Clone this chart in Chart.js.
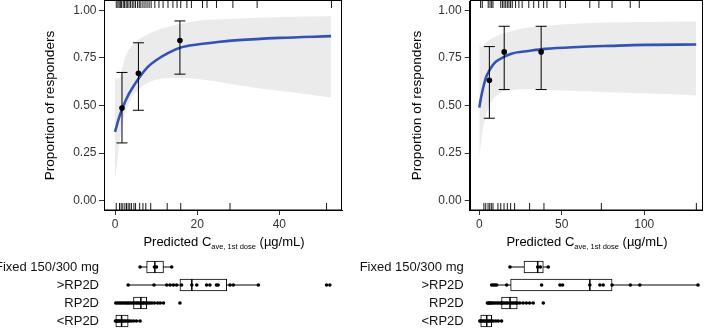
<!DOCTYPE html>
<html><head><meta charset="utf-8">
<script src="https://cdn.jsdelivr.net/npm/chart.js@4.4.1/dist/chart.umd.min.js"></script>
<style>
body{margin:0;width:708px;height:329px;overflow:hidden;background:#fff;position:relative;font-family:"Liberation Sans",Arial,sans-serif}
.c{position:absolute}
.xt{position:absolute;font-size:13px;color:#000;white-space:nowrap;transform:translateX(-50%);line-height:15px}
.xt sub{font-size:7.5px;vertical-align:-3px}
</style></head><body>
<canvas class="c" id="tl" width="354" height="256" style="left:0;top:0"></canvas>
<canvas class="c" id="tr" width="354" height="256" style="left:354px;top:0"></canvas>
<canvas class="c" id="bl" width="354" height="72" style="left:0;top:258px"></canvas>
<canvas class="c" id="br" width="354" height="72" style="left:354px;top:258px"></canvas>
<div class="xt" style="left:224px;top:234px">Predicted C<sub>ave, 1st dose</sub> (µg/mL)</div>
<div class="xt" style="left:587px;top:234px">Predicted C<sub>ave, 1st dose</sub> (µg/mL)</div>
<script>
// ---------- shared ----------
const Y_TICKS = [0, 0.25, 0.5, 0.75, 1];
const Y_MIN = -0.05, Y_MAX = 1.05;
const categories = ['Fixed 150/300 mg', '>RP2D', 'RP2D', '<RP2D'];
const yTitle = 'Proportion of responders';

// ---------- left panel ----------
const leftXTicks = [0, 20, 40];
const leftBinX  = [1.7, 5.7, 15.8];
const leftBinY  = [0.487, 0.670, 0.842];
const leftBinLo = [0.303, 0.475, 0.665];
const leftBinHi = [0.674, 0.830, 0.945];
const leftCurveX = [0, 0.5, 1, 2, 3, 4, 6, 8, 10, 13, 16, 20, 25, 30, 40, 52.6];
const leftCurveY = [0.361, 0.400, 0.437, 0.496, 0.545, 0.584, 0.650, 0.703, 0.738, 0.777, 0.805, 0.821, 0.834, 0.844, 0.856, 0.865];
const leftBandHi = [0.650, 0.640, 0.640, 0.720, 0.780, 0.810, 0.850, 0.875, 0.895, 0.915, 0.930, 0.945, 0.952, 0.958, 0.966, 0.970];
const leftBandLo = [0.110, 0.200, 0.300, 0.420, 0.490, 0.540, 0.590, 0.620, 0.635, 0.645, 0.645, 0.640, 0.625, 0.607, 0.577, 0.542];
const leftRugTop = [0.3,0.7,1.0,1.3,1.6,2.0,2.3,2.7,3.0,3.4,3.8,4.2,4.6,5.0,5.5,5.9,6.3,6.8,7.3,7.8,8.3,8.8,9.7,10.7,11.7,12.9,14.1,15.1,16.0,17.5,18.6,21.3,22.4,24.7,28.7,34.6,52.7];
const leftRugBot = [0.3,1.1,1.5,1.9,2.4,2.8,3.2,3.6,4.0,4.6,5.0,6.0,6.8,7.5,8.7,12.7,16.0,28.0,51.5];
const leftBoxLo  = [6.1, 3.2, 0.0, 0.0];
const leftBoxQ1  = [7.7, 15.8, 4.5, 0.2];
const leftBoxMed = [9.7, 18.7, 6.3, 1.6];
const leftBoxQ3  = [11.8, 27.2, 7.7, 3.2];
const leftBoxHi  = [13.8, 34.9, 11.8, 6.1];
const leftPts = [
  [6.1, 9.6, 10.1, 13.8],
  [3.2, 9.5, 12.6, 13.4, 14.2, 15.0, 16.2, 18.7, 19.9, 22.3, 23.1, 24.7, 25.1, 28.0, 28.8, 34.9, 51.5, 52.3],
  [0.2, 0.6, 1.0, 1.4, 1.8, 2.2, 2.6, 3.0, 3.3, 3.7, 4.1, 4.5, 4.9, 5.3, 5.6, 6.0, 6.3, 6.7, 7.0, 7.4, 7.7, 8.1, 8.5, 9.0, 9.6, 10.4, 11.0, 11.8, 15.8],
  [0.1, 0.3, 0.5, 0.8, 1.0, 1.3, 1.6, 1.9, 2.2, 2.6, 3.0, 3.4, 3.9, 4.5, 5.2, 6.1]
];

// ---------- right panel ----------
const rightXTicks = [0, 50, 100];
const rightBinX  = [6.1, 15.1, 37.5];
const rightBinY  = [0.633, 0.782, 0.782];
const rightBinLo = [0.433, 0.584, 0.584];
const rightBinHi = [0.810, 0.917, 0.917];
const rightCurveX = [0, 0.5, 1, 2, 4, 6, 8, 10, 15, 20, 30, 40, 60, 80, 100, 131.5];
const rightCurveY = [0.489, 0.515, 0.540, 0.580, 0.647, 0.682, 0.710, 0.730, 0.756, 0.774, 0.787, 0.798, 0.808, 0.814, 0.819, 0.821];
const rightBandHi = [0.830, 0.820, 0.810, 0.810, 0.830, 0.845, 0.855, 0.865, 0.880, 0.893, 0.910, 0.920, 0.932, 0.937, 0.940, 0.942];
const rightBandLo = [0.210, 0.260, 0.300, 0.370, 0.450, 0.500, 0.530, 0.550, 0.575, 0.583, 0.586, 0.583, 0.576, 0.570, 0.564, 0.553];
const rightRugTop = [0.8,1.8,5.4,6.5,7.5,8.3,13,14,15,16,17,18,19,20,22,24,26,30,33,36,39,41,49,52.3,67,72.5,80.5,91.5,97];
const rightRugBot = [2.8,3.9,5.3,6.3,7.3,8.3,11.3,13,15,17,19,21.4,30.5,39.2,74,131.6];
const rightBoxLo  = [18.6, 7.5, 4.9, 0.2];
const rightBoxQ1  = [27.1, 19.0, 13.5, 0.85];
const rightBoxMed = [35.4, 67.0, 18.6, 4.5];
const rightBoxQ3  = [38.8, 80.5, 23.0, 7.5];
const rightBoxHi  = [41.8, 132.6, 32.7, 13.5];
const rightPts = [
  [18.6, 35.4, 37.0, 41.8],
  [7.5, 8.5, 9.5, 10.5, 16.6, 37.8, 48.9, 50.5, 67.0, 73.1, 75.1, 80.5, 91.6, 97.3, 132.6],
  [4.9, 5.5, 6.1, 6.7, 7.3, 8.1, 9.0, 10.0, 11.0, 12.0, 13.0, 13.5, 14.3, 15.3, 16.3, 17.3, 18.6, 19.5, 20.5, 21.5, 22.5, 23.0, 24.5, 26.5, 28.5, 30.5, 32.7, 38.8],
  [0.3, 0.8, 1.5, 2.2, 3.0, 3.7, 4.5, 5.2, 6.0, 6.8, 7.5, 8.5, 10.0, 11.5, 13.5]
];

// ---------- drawing ----------
const FONT = '"Liberation Sans", Arial, sans-serif';
Chart.defaults.font.family = FONT;
Chart.defaults.animation = false;
Chart.defaults.plugins.legend.display = false;
Chart.defaults.plugins.tooltip.enabled = false;

const noPad = s => { s.paddingTop = 0; s.paddingBottom = 0; s.paddingLeft = 0; s.paddingRight = 0; };

const frame = {
  id: 'frame',
  afterDraw(chart) {
    const a = chart.chartArea, ctx = chart.ctx;
    ctx.save(); ctx.strokeStyle = '#000'; ctx.lineWidth = 1;
    ctx.strokeRect(Math.round(a.left) + 0.5, Math.round(a.top) - 0.5, Math.round(a.right - a.left) - 1, Math.round(a.bottom - a.top) + 0.5);
    ctx.restore();
  }
};

function makeTop(id, p) {
  const pts = (xs, ys) => xs.map((x, i) => ({x, y: ys[i]}));
  const ds = [];
  ds.push({type: 'scatter', data: pts(p.binX, p.binY), pointRadius: 2.8, backgroundColor: '#000', borderColor: '#000', borderWidth: 0, order: 0});
  ds.push({type: 'scatter', data: pts(p.binX, p.binLo).concat(pts(p.binX, p.binHi)), pointStyle: 'line', pointRadius: 5.5, borderColor: '#000', borderWidth: 1, order: 1});
  p.binX.forEach((x, i) => ds.push({type: 'line', data: [{x, y: p.binLo[i]}, {x, y: p.binHi[i]}], borderColor: '#000', borderWidth: 1, pointRadius: 0, order: 1}));
  ds.push({type: 'line', data: pts(p.cx, p.cy), borderColor: '#3252b4', borderWidth: 2.6, pointRadius: 0, cubicInterpolationMode: 'monotone', order: 2});
  const rugTopY = Y_MAX - 0.0185, rugBotY = Y_MIN + 0.0185;
  ds.push({type: 'scatter', data: p.rugTop.map(x => ({x, y: rugTopY})), pointStyle: 'line', rotation: 90, pointRadius: 3.5, borderColor: '#000', borderWidth: 0.9, order: 3});
  ds.push({type: 'scatter', data: p.rugBot.map(x => ({x, y: rugBotY})), pointStyle: 'line', rotation: 90, pointRadius: 3.5, borderColor: '#000', borderWidth: 0.9, order: 3});
  const lowIdx = ds.length;
  ds.push({type: 'line', data: pts(p.cx, p.lo), borderWidth: 0, borderColor: 'rgba(0,0,0,0)', pointRadius: 0, fill: false, cubicInterpolationMode: 'monotone', order: 6});
  ds.push({type: 'line', data: pts(p.cx, p.hi), borderWidth: 0, borderColor: 'rgba(0,0,0,0)', pointRadius: 0, fill: lowIdx, backgroundColor: '#ebebeb', cubicInterpolationMode: 'monotone', order: 5});

  new Chart(document.getElementById(id), {
    type: 'scatter',
    data: {datasets: ds},
    plugins: [frame],
    options: {
      responsive: false, devicePixelRatio: 1,
      layout: {autoPadding: false, padding: {top: 1, left: 0, right: p.padR, bottom: 0}},
      scales: {
        x: {
          type: 'linear', min: p.xMin, max: p.xMax,
          afterBuildTicks: s => { s.ticks = p.xTicks.map(v => ({value: v})); },
          afterFit: s => { s.height = 46; noPad(s); },
          grid: {display: true, drawOnChartArea: false, drawTicks: true, tickLength: 5, color: '#333'},
          border: {display: true, color: '#000'},
          ticks: {color: '#333', font: {size: 12}, padding: 2, maxRotation: 0, autoSkip: false}
        },
        y: {
          type: 'linear', min: Y_MIN, max: Y_MAX,
          afterBuildTicks: s => { s.ticks = Y_TICKS.map(v => ({value: v})); },
          afterFit: s => { s.width = p.yW; noPad(s); },
          grid: {display: true, drawOnChartArea: false, drawTicks: true, tickLength: 5, color: '#333'},
          border: {display: true, color: '#000'},
          ticks: {color: '#333', font: {size: 12}, padding: p.yPad, autoSkip: false, callback: v => Number(v).toFixed(2)},
          title: {display: true, text: yTitle, color: '#000', font: {size: 13.6}, padding: {top: p.titlePad, bottom: 0}}
        }
      }
    }
  });
}

function makeBox(id, p) {
  const ds = [];
  ds.push({type: 'scatter', data: categories.flatMap((c, i) => p.pts[i].map(x => ({x, y: c}))), pointRadius: 1.8, backgroundColor: '#000', borderWidth: 0, order: 0});
  ds.push({type: 'scatter', data: categories.map((c, i) => ({x: p.med[i], y: c})), pointStyle: 'line', rotation: 90, pointRadius: 6, borderColor: '#000', borderWidth: 1.5, order: 1});
  ds.push({type: 'bar', indexAxis: 'y', data: categories.map((c, i) => [p.q1[i], p.q3[i]]), backgroundColor: '#fff', borderColor: '#000', borderWidth: 1, borderSkipped: false, barThickness: 12, order: 2});
  categories.forEach((c, i) => ds.push({type: 'line', data: [{x: p.lo[i], y: c}, {x: p.hi[i], y: c}], borderColor: '#000', borderWidth: 1, pointRadius: 0, order: 3}));
  new Chart(document.getElementById(id), {
    type: 'bar',
    data: {labels: categories, datasets: ds},
    options: {
      indexAxis: 'y',
      responsive: false, devicePixelRatio: 1,
      layout: {autoPadding: false, padding: {top: 0, left: 0, right: p.padR, bottom: 0}},
      scales: {
        x: {type: 'linear', display: false, min: p.xMin, max: p.xMax, afterFit: noPad},
        y: {
          type: 'category', offset: true,
          afterFit: s => { s.width = p.yW; noPad(s); },
          grid: {display: false, drawTicks: false}, border: {display: false},
          ticks: {color: '#111', font: {size: 13}, padding: p.yPad, autoSkip: false}
        }
      }
    }
  });
}

makeTop('tl', {binX: leftBinX, binY: leftBinY, binLo: leftBinLo, binHi: leftBinHi, cx: leftCurveX, cy: leftCurveY, hi: leftBandHi, lo: leftBandLo,
  rugTop: leftRugTop, rugBot: leftRugBot, xTicks: leftXTicks, xMin: -2.68, xMax: 55.26, padR: 12, yW: 104, yPad: 2.5, titlePad: 42});
makeTop('tr', {binX: rightBinX, binY: rightBinY, binLo: rightBinLo, binHi: rightBinHi, cx: rightCurveX, cy: rightCurveY, hi: rightBandHi, lo: rightBandLo,
  rugTop: rightRugTop, rugBot: rightRugBot, xTicks: rightXTicks, xMin: -5.82, xMax: 135.2, padR: 5.7, yW: 115.7, yPad: 3, titlePad: 55});
makeBox('bl', {pts: leftPts, lo: leftBoxLo, q1: leftBoxQ1, med: leftBoxMed, q3: leftBoxQ3, hi: leftBoxHi, xMin: -2.68, xMax: 55.26, padR: 12, yW: 104, yPad: 5});
makeBox('br', {pts: rightPts, lo: rightBoxLo, q1: rightBoxQ1, med: rightBoxMed, q3: rightBoxQ3, hi: rightBoxHi, xMin: -5.82, xMax: 135.2, padR: 5.7, yW: 115.7, yPad: 6});
</script>
</body></html>
